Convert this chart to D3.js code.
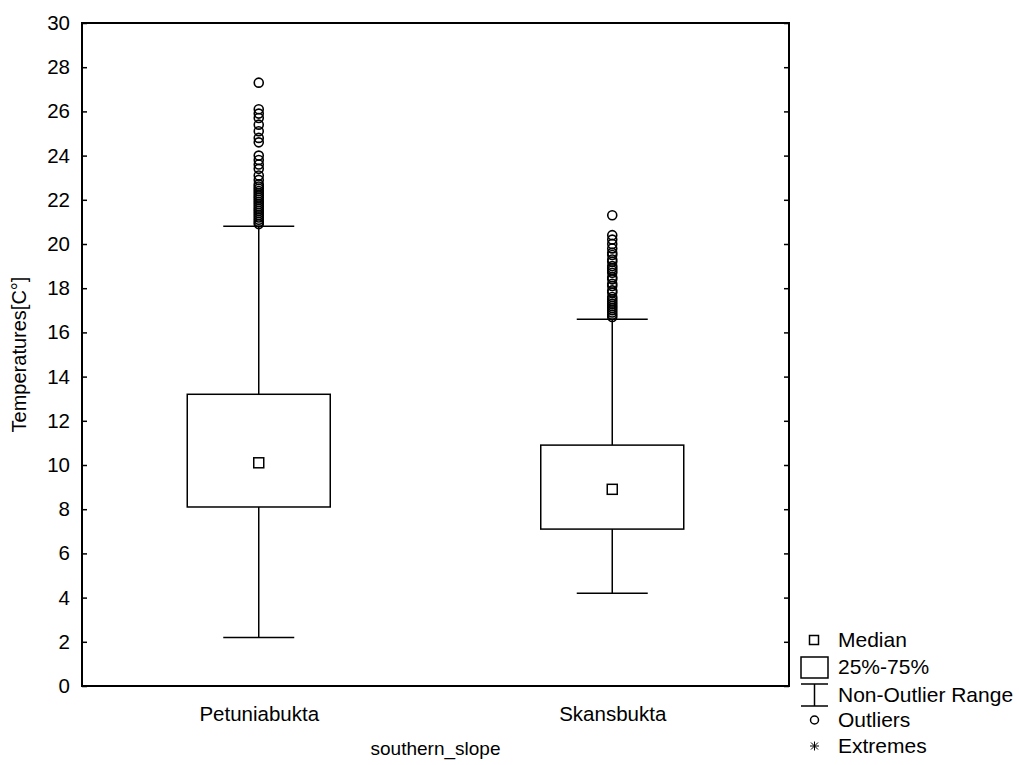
<!DOCTYPE html>
<html>
<head>
<meta charset="utf-8">
<script src="https://cdn.jsdelivr.net/npm/d3@7"></script>
<style>
  body { margin: 0; background: #fff; }
  text { font-family: "Liberation Sans", Arial, sans-serif; fill: #000; }
</style>
</head>
<body>
<div id="chart"></div>
<script>
// data
const sites = ["Petuniabukta", "Skansbukta"];
const medians = [10.1, 8.9];
const q1 = [8.1, 7.1];
const q3 = [13.2, 10.9];
const whiskerLow = [2.2, 4.2];
const whiskerHigh = [20.8, 16.6];
const outliersPetunia = [27.3, 26.1, 25.9, 25.7, 25.4, 25.1, 24.8, 24.6, 24.0, 23.8, 23.6, 23.4,
  23.1, 22.9, 22.7, 22.6, 22.5, 22.4, 22.3, 22.2, 22.1, 22.0, 21.9, 21.8, 21.7, 21.6, 21.5, 21.4,
  21.3, 21.2, 21.1, 21.0, 20.9];
const outliersSkans = [21.3, 20.4, 20.2, 20.0, 19.8, 19.6, 19.5, 19.3, 19.2, 19.0, 18.9, 18.8,
  18.7, 18.5, 18.4, 18.2, 18.1, 17.9, 17.8, 17.6, 17.5, 17.4, 17.3, 17.2, 17.1, 17.0, 16.9, 16.8, 16.7];
const yTicks = d3.range(0, 31, 2);
const legendLabels = ["Median", "25%-75%", "Non-Outlier Range", "Outliers", "Extremes"];

async function drawBoxPlot() {
  const outliers = [outliersPetunia, outliersSkans];

  const dimensions = {
    width: 1019,
    height: 765,
    margin: { top: 23, right: 230, bottom: 79, left: 82 }
  };
  dimensions.boundedWidth = dimensions.width - dimensions.margin.left - dimensions.margin.right;
  dimensions.boundedHeight = dimensions.height - dimensions.margin.top - dimensions.margin.bottom;

  const wrapper = d3.select("#chart")
    .append("svg")
      .attr("width", dimensions.width)
      .attr("height", dimensions.height);

  const bounds = wrapper.append("g")
    .attr("transform", `translate(${dimensions.margin.left},${dimensions.margin.top})`);

  // scales
  const yScale = d3.scaleLinear()
    .domain([0, 30])
    .range([dimensions.boundedHeight, 0]);

  const xScale = d3.scalePoint()
    .domain(sites)
    .range([0, dimensions.boundedWidth])
    .padding(0.5);

  const boxWidth = 143;
  const capWidth = 71;

  // axes (ticks point inward)
  const yAxis = d3.axisLeft(yScale).tickValues(yTicks).tickSize(-5).tickPadding(12);
  const yAxisRight = d3.axisRight(yScale).tickValues(yTicks).tickSize(-5).tickFormat("");
  const xAxis = d3.axisBottom(xScale).tickSize(0).tickPadding(20);

  const yG = bounds.append("g").call(yAxis);
  yG.select(".domain").remove();
  yG.selectAll("line").attr("stroke", "#000").attr("stroke-width", 1.5);
  yG.selectAll("text").style("font-size", "20.5px");

  const yR = bounds.append("g")
    .attr("transform", `translate(${dimensions.boundedWidth},0)`)
    .call(yAxisRight);
  yR.select(".domain").remove();
  yR.selectAll("line").attr("stroke", "#000").attr("stroke-width", 1.5);

  const xG = bounds.append("g")
    .attr("transform", `translate(0,${dimensions.boundedHeight})`)
    .call(xAxis);
  xG.select(".domain").remove();
  xG.selectAll("text").style("font-size", "20.5px");

  // frame
  bounds.append("rect")
    .attr("width", dimensions.boundedWidth)
    .attr("height", dimensions.boundedHeight)
    .attr("fill", "none")
    .attr("stroke", "#000")
    .attr("stroke-width", 2);

  // boxes
  const groups = bounds.selectAll(".site")
    .data(sites)
    .join("g")
      .attr("class", "site");

  groups.append("line")
    .attr("x1", d => xScale(d)).attr("x2", d => xScale(d))
    .attr("y1", (d, i) => yScale(whiskerLow[i]))
    .attr("y2", (d, i) => yScale(q1[i]))
    .attr("stroke", "#000").attr("stroke-width", 1.5);

  groups.append("line")
    .attr("x1", d => xScale(d)).attr("x2", d => xScale(d))
    .attr("y1", (d, i) => yScale(q3[i]))
    .attr("y2", (d, i) => yScale(whiskerHigh[i]))
    .attr("stroke", "#000").attr("stroke-width", 1.5);

  [whiskerLow, whiskerHigh].forEach(arr => {
    groups.append("line")
      .attr("x1", d => xScale(d) - capWidth / 2)
      .attr("x2", d => xScale(d) + capWidth / 2)
      .attr("y1", (d, i) => yScale(arr[i]))
      .attr("y2", (d, i) => yScale(arr[i]))
      .attr("stroke", "#000").attr("stroke-width", 1.5);
  });

  groups.append("rect")
    .attr("x", d => xScale(d) - boxWidth / 2)
    .attr("width", boxWidth)
    .attr("y", (d, i) => yScale(q3[i]))
    .attr("height", (d, i) => yScale(q1[i]) - yScale(q3[i]))
    .attr("fill", "#fff")
    .attr("stroke", "#000").attr("stroke-width", 1.5);

  groups.append("rect")
    .attr("x", d => xScale(d) - 5)
    .attr("y", (d, i) => yScale(medians[i]) - 5)
    .attr("width", 10).attr("height", 10)
    .attr("fill", "#fff")
    .attr("stroke", "#000").attr("stroke-width", 1.5);

  groups.each(function(d, i) {
    d3.select(this).selectAll(".outlier")
      .data(outliers[i])
      .join("circle")
        .attr("class", "outlier")
        .attr("cx", xScale(d))
        .attr("cy", v => yScale(v))
        .attr("r", 4.5)
        .attr("fill", "none")
        .attr("stroke", "#000")
        .attr("stroke-width", 1.6);
  });

  // axis titles
  wrapper.append("text")
    .attr("x", dimensions.margin.left + dimensions.boundedWidth / 2)
    .attr("y", 755)
    .attr("text-anchor", "middle")
    .style("font-size", "19px")
    .text("southern_slope");

  wrapper.append("text")
    .attr("transform", `translate(26,${dimensions.margin.top + dimensions.boundedHeight / 2}) rotate(-90)`)
    .attr("text-anchor", "middle")
    .style("font-size", "20px")
    .text("Temperatures[C°]");

  // legend
  const legend = wrapper.append("g").attr("transform", "translate(814,0)");
  const rowY = [640, 667, 695, 720, 746];
  legend.selectAll("text")
    .data(legendLabels)
    .join("text")
      .attr("x", 24)
      .attr("y", (d, i) => rowY[i])
      .attr("dy", "0.35em")
      .style("font-size", "21px")
      .text(d => d);

  legend.append("rect")
    .attr("x", -4.5).attr("y", rowY[0] - 4.5).attr("width", 9).attr("height", 9)
    .attr("fill", "none").attr("stroke", "#000").attr("stroke-width", 1.5);
  legend.append("rect")
    .attr("x", -13).attr("y", rowY[1] - 10).attr("width", 27).attr("height", 21)
    .attr("fill", "none").attr("stroke", "#000").attr("stroke-width", 1.5);
  legend.append("path")
    .attr("d", `M-13,${rowY[2] - 11}H14M0.5,${rowY[2] - 11}V${rowY[2] + 11}M-13,${rowY[2] + 11}H14`)
    .attr("fill", "none").attr("stroke", "#000").attr("stroke-width", 1.5);
  legend.append("circle")
    .attr("cx", 0.5).attr("cy", rowY[3]).attr("r", 4)
    .attr("fill", "none").attr("stroke", "#000").attr("stroke-width", 1.5);
  legend.append("path")
    .attr("d", `M-4,${rowY[4]}H5M0.5,${rowY[4] - 4.5}V${rowY[4] + 4.5}M-3,${rowY[4] - 3.5}L4,${rowY[4] + 3.5}M-3,${rowY[4] + 3.5}L4,${rowY[4] - 3.5}`)
    .attr("fill", "none").attr("stroke", "#000").attr("stroke-width", 1);
}

drawBoxPlot();
</script>
</body>
</html>
